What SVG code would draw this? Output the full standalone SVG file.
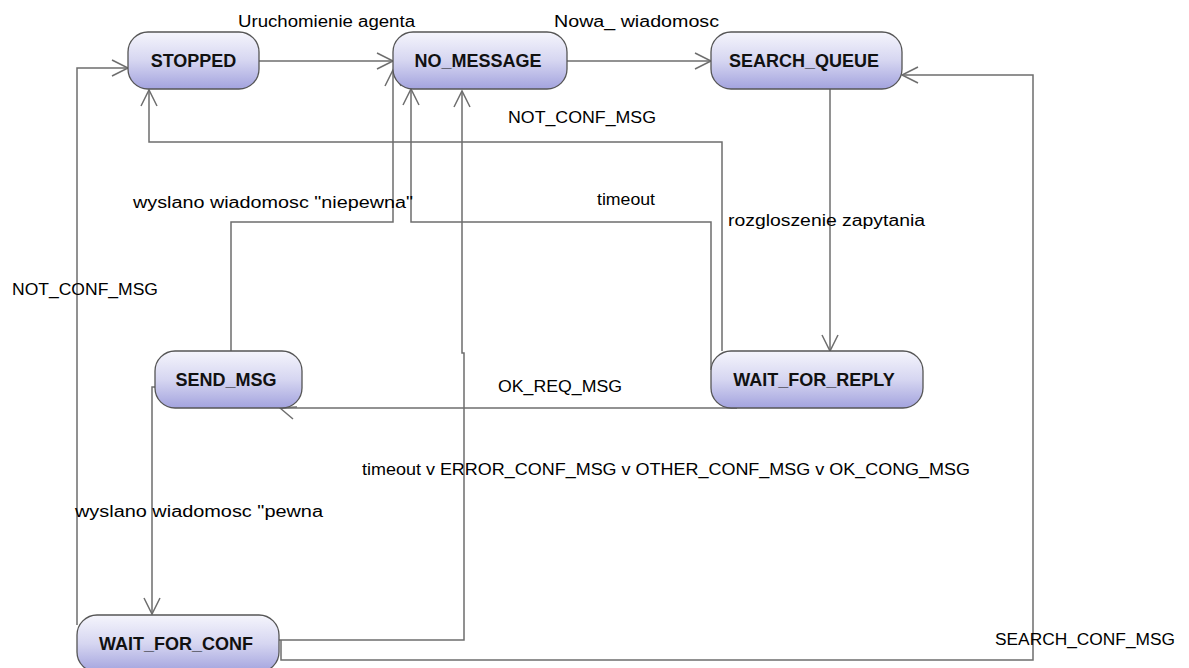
<svg xmlns="http://www.w3.org/2000/svg" width="1189" height="668" viewBox="0 0 1189 668">
<defs>
<linearGradient id="ng" x1="0" y1="0" x2="0" y2="1">
<stop offset="0" stop-color="#f5f5fc"/>
<stop offset="0.5" stop-color="#d6d6f1"/>
<stop offset="1" stop-color="#a3a3de"/>
</linearGradient>
<marker id="arr" markerUnits="userSpaceOnUse" markerWidth="22" markerHeight="22" viewBox="-19 -11 22 22" refX="0" refY="0" orient="auto">
<path d="M-16,-8 L0,0 L-16,8" fill="none" stroke="#6e6e6e" stroke-width="1.5"/>
</marker>
<style>
.node rect{fill:url(#ng);stroke:#555;stroke-width:1.3}
.node text{font-family:"Liberation Sans",Arial,sans-serif;font-weight:bold;font-size:18px;fill:#111;text-anchor:middle}
.edge{fill:none;stroke:#6e6e6e;stroke-width:1.5}
.arr{marker-end:url(#arr)}
.lbl{font-family:"Liberation Sans",Arial,sans-serif;font-size:16px;fill:#000}
</style>
</defs>
<rect width="1189" height="668" fill="#fff"/>
<g id="connectors">
<path class="edge arr" d="M259,61 H393"/>
<path class="edge arr" d="M567,61 H711"/>
<path class="edge arr" d="M830,89 V351"/>
<path class="edge" d="M737,408 H281"/>
<path class="edge" d="M297,407 L280,408 L293,419"/>
<path class="edge arr" d="M722,351 V142 H149 V90"/>
<path class="edge arr" d="M711,370 V222 H411 V89"/>
<path class="edge arr" d="M231,351 V222 H393 V70"/>
<path class="edge arr" d="M279,640 H464 V353 H462 V91"/>
<path class="edge arr" d="M281,640 V660 H1033 V75 H902"/>
<path class="edge arr" d="M77,625 V68 H128"/>
<path class="edge arr" d="M155,387 H152 V614"/>
</g>
<g id="labels">
<text class="lbl" x="238" y="27" textLength="177" lengthAdjust="spacingAndGlyphs">Uruchomienie agenta</text>
<text class="lbl" x="554" y="27" textLength="165" lengthAdjust="spacingAndGlyphs">Nowa_ wiadomosc</text>
<text class="lbl" x="508" y="123" textLength="148" lengthAdjust="spacingAndGlyphs">NOT_CONF_MSG</text>
<text class="lbl" x="133" y="208" textLength="280" lengthAdjust="spacingAndGlyphs">wyslano wiadomosc "niepewna"</text>
<text class="lbl" x="597" y="205" textLength="58" lengthAdjust="spacingAndGlyphs">timeout</text>
<text class="lbl" x="728" y="226" textLength="197" lengthAdjust="spacingAndGlyphs">rozgloszenie zapytania</text>
<text class="lbl" x="12" y="295" textLength="146" lengthAdjust="spacingAndGlyphs">NOT_CONF_MSG</text>
<text class="lbl" x="498" y="392" textLength="124" lengthAdjust="spacingAndGlyphs">OK_REQ_MSG</text>
<text class="lbl" x="362" y="475" textLength="608" lengthAdjust="spacingAndGlyphs">timeout v ERROR_CONF_MSG v OTHER_CONF_MSG v OK_CONG_MSG</text>
<text class="lbl" x="75" y="517" textLength="248" lengthAdjust="spacingAndGlyphs">wyslano wiadomosc "pewna</text>
<text class="lbl" x="995" y="645" textLength="180" lengthAdjust="spacingAndGlyphs">SEARCH_CONF_MSG</text>
</g>
<g id="n_stopped" class="node"><rect x="128" y="32" width="131" height="57" rx="20"/><text x="193.5" y="67">STOPPED</text></g>
<g id="n_no_message" class="node"><rect x="393" y="32" width="174" height="57" rx="20"/><text x="478" y="67">NO_MESSAGE</text></g>
<g id="n_search_queue" class="node"><rect x="711" y="32" width="191" height="57" rx="20"/><text x="804" y="67">SEARCH_QUEUE</text></g>
<g id="n_send_msg" class="node"><rect x="155" y="351" width="147" height="57" rx="20"/><text x="226" y="386">SEND_MSG</text></g>
<g id="n_wait_for_reply" class="node"><rect x="711" y="351" width="212" height="57" rx="20"/><text x="814" y="386">WAIT_FOR_REPLY</text></g>
<g id="n_wait_for_conf" class="node"><rect x="77" y="615" width="202" height="57" rx="20"/><text x="176" y="650">WAIT_FOR_CONF</text></g>
</svg>
